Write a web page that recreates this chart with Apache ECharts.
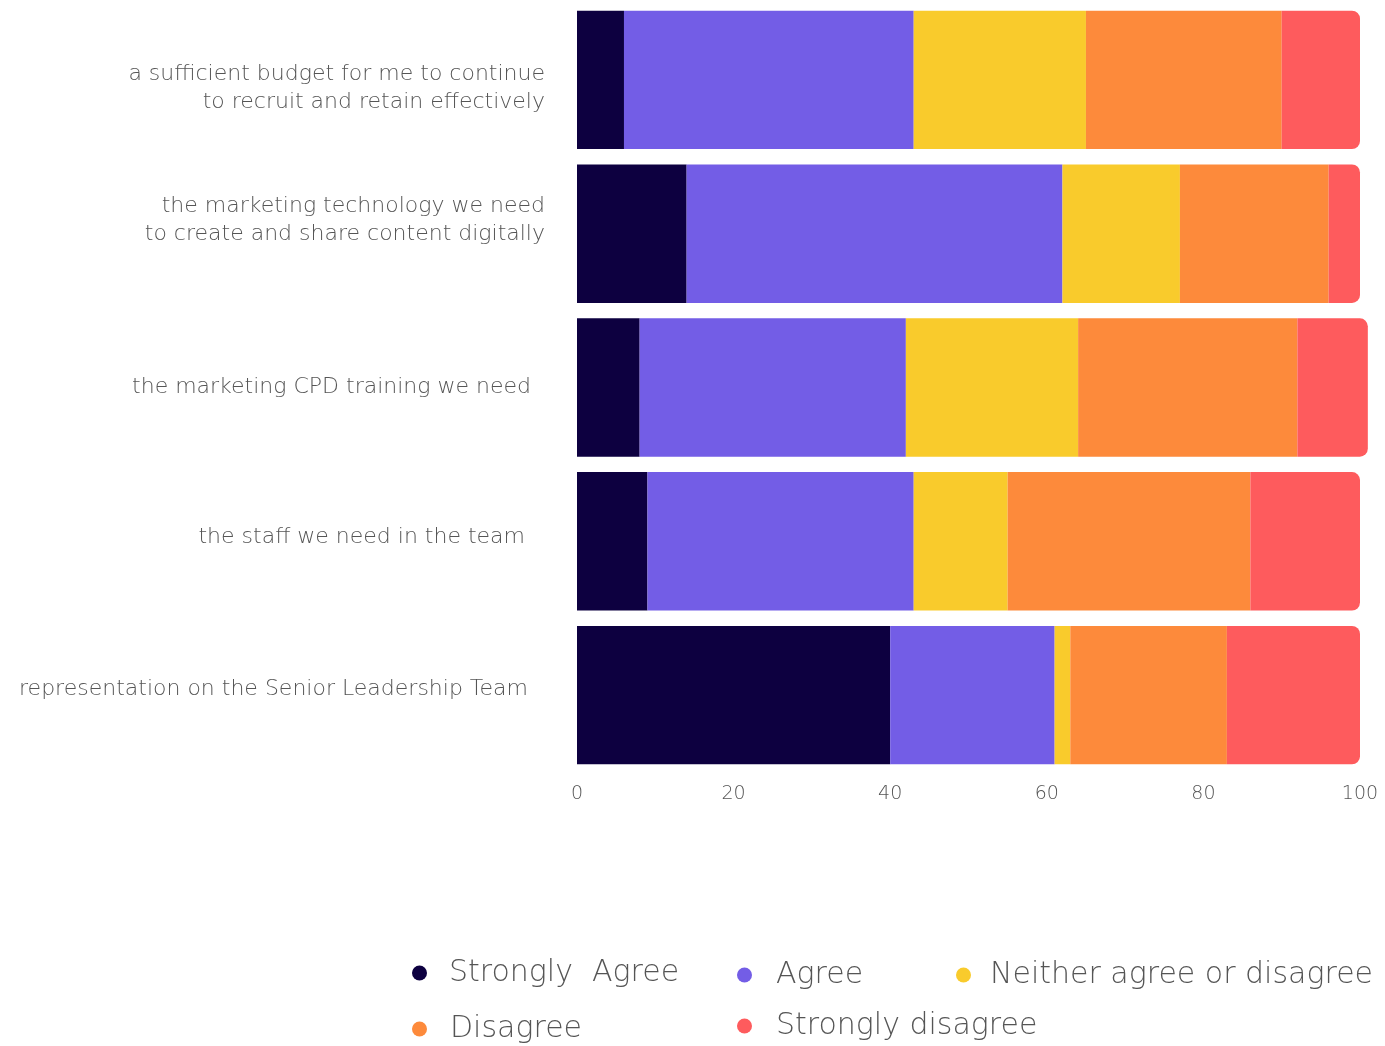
<!DOCTYPE html>
<html>
<head>
<meta charset="utf-8">
<script src="https://cdn.jsdelivr.net/npm/echarts@6/dist/echarts.min.js"></script>
<style>
  html, body { margin: 0; padding: 0; background: #ffffff; }
  #chart { width: 1385px; height: 1046px; }
</style>
</head>
<body>
<div id="chart"></div>
<script>
// Survey statements (top to bottom)
const categories = [
  'a sufficient budget for me to continue\nto recruit and retain effectively',
  'the marketing technology we need\nto create and share content digitally',
  'the marketing CPD training we need',
  'the staff we need in the team',
  'representation on the Senior Leadership Team'
];

// Response shares (%) per statement, same order as categories
const stronglyAgree = [6, 14, 8, 9, 40];
const agree         = [37, 48, 34, 34, 21];
const neither       = [22, 15, 22, 12, 2];
const disagree      = [25, 19, 28, 31, 20];
const stronglyDis   = [10, 4, 9, 14, 17];

const seriesNames = ['Strongly  Agree', 'Agree', 'Neither agree or disagree', 'Disagree', 'Strongly disagree'];
const seriesColors = ['#0d0040', '#735de6', '#f9cb2c', '#fd8a3b', '#fe5b5d'];
const xTicks = [0, 20, 40, 60, 80, 100];

// vertical nudge (px, + = down) and right inset for each statement label
const labelShift = [8, -13, 0, -4, -6];
const labelInset = [0, 0, 14, 20, 17];
const FONT = 'DejaVu Sans';
const LABEL_SIZE = 22;
const LINE_H = 28;

const values = [stronglyAgree, agree, neither, disagree, stronglyDis];

const series = values.map((arr, i) => ({
  name: seriesNames[i],
  type: 'bar',
  stack: 'total',
  barWidth: '90%',
  clip: false,
  itemStyle: {
    color: seriesColors[i],
    borderRadius: i === values.length - 1 ? [0, 8, 8, 0] : 0
  },
  emphasis: { disabled: true },
  data: arr.slice().reverse()
}));

// rich styles: text line plus spacer blocks used to nudge each label
const rich = {};
categories.forEach((c, i) => {
  rich['t' + i] = {
    fontFamily: FONT, fontWeight: 200, fontSize: LABEL_SIZE, color: '#555555',
    lineHeight: LINE_H, padding: [0, labelInset[i], 0, 0], align: 'right'
  };
  rich['s' + i] = { lineHeight: Math.max(1, Math.abs(labelShift[i]) * 2), height: Math.max(1, Math.abs(labelShift[i]) * 2), fontSize: 1 };
});

function labelFormatter(value) {
  const i = categories.indexOf(value);
  const lines = value.split('\n').map(l => '{t' + i + '|' + l + '}');
  const spacer = '{s' + i + '| }';
  if (labelShift[i] > 0) lines.unshift(spacer);
  else if (labelShift[i] < 0) lines.push(spacer);
  return lines.join('\n');
}

// legend entries laid out in two rows, three columns
const legendPos = [
  { left: 412, top: 958, gap: 17 },
  { left: 737, top: 960, gap: 19 },
  { left: 956, top: 960, gap: 14 },
  { left: 412, top: 1014, gap: 18 },
  { left: 737, top: 1011, gap: 19 }
];
const legends = seriesNames.map((n, i) => ({
  data: [n],
  left: legendPos[i].left,
  top: legendPos[i].top,
  padding: 0,
  icon: 'circle',
  itemWidth: 15,
  itemHeight: 15,
  itemGap: 0,
  selectedMode: false,
  textStyle: { fontFamily: FONT, fontWeight: 200, fontSize: 30, color: '#555555', padding: [0, 0, 0, legendPos[i].gap] }
}));

const chart = echarts.init(document.getElementById('chart'), null, { renderer: 'canvas' });
chart.setOption({
  animation: false,
  backgroundColor: '#ffffff',
  grid: { left: 577, right: 25, top: 3, bottom: 274, containLabel: false },
  xAxis: {
    type: 'value',
    min: xTicks[0],
    max: xTicks[xTicks.length - 1],
    interval: 20,
    axisLine: { show: false },
    axisTick: { show: false },
    splitLine: { show: false },
    axisLabel: { fontFamily: FONT, fontWeight: 200, fontSize: 19, color: '#555555', margin: 13 }
  },
  yAxis: {
    type: 'category',
    data: categories.slice().reverse(),
    axisLine: { show: false },
    axisTick: { show: false },
    axisLabel: {
      margin: 32, align: 'right',
      formatter: labelFormatter,
      rich: rich
    }
  },
  legend: legends,
  series: series
});
</script>
</body>
</html>
